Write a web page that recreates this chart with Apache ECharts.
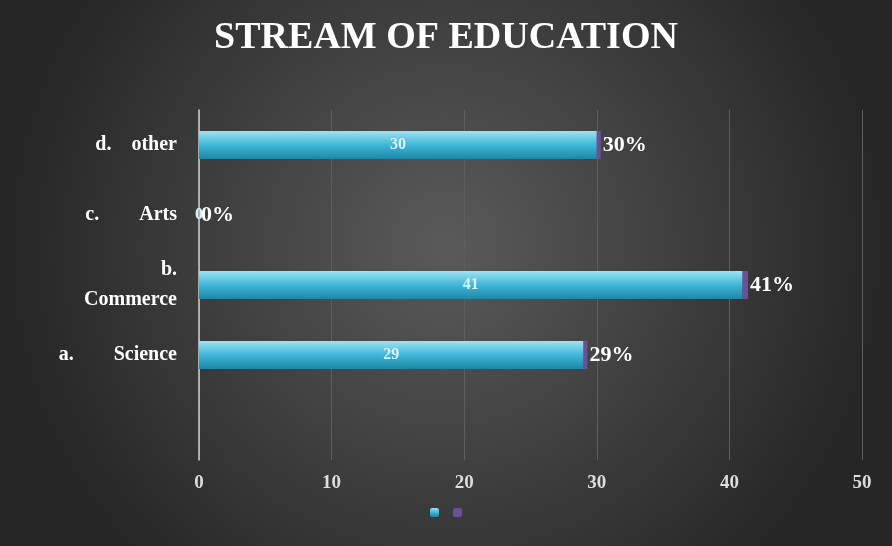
<!DOCTYPE html>
<html><head><meta charset="utf-8">
<script src="https://cdn.jsdelivr.net/npm/echarts@6/dist/echarts.min.js"></script>
<style>html,body{margin:0;padding:0;background:#333}#c{width:892px;height:546px}</style>
</head><body><div id="c"></div>
<script>
// data
var categories = ['', 'a.        Science', 'b.\nCommerce', 'c.        Arts', 'd.    other'];
var counts = [null, 29, 41, 0, 30];
var shares = [null, 0.29, 0.41, 0, 0.30];

var chart = echarts.init(document.getElementById('c'));
var serif = 'Liberation Serif';
chart.setOption({
  backgroundColor: {
    type: 'radial', x: 0.5, y: 0.45, r: 0.8,
    colorStops: [{offset: 0, color: '#5a5a5a'}, {offset: 1, color: '#262626'}]
  },
  title: {
    text: 'STREAM OF EDUCATION', left: 'center', top: 14,
    textStyle: {color: '#fff', fontFamily: serif, fontSize: 38, fontWeight: 'bold'}
  },
  legend: {
    bottom: 24, left: 'center', itemWidth: 9, itemHeight: 9, itemGap: 14,
    data: ['Count', 'Share'], formatter: function () { return ''; },
    textStyle: {color: '#fff'}
  },
  grid: {left: 199, right: 30, top: 110, bottom: 86},
  xAxis: {
    type: 'value', min: 0, max: 50, interval: 10,
    axisLine: {show: false}, axisTick: {show: false},
    axisLabel: {color: '#ddd', fontFamily: serif, fontSize: 19, fontWeight: 'bold', margin: 14},
    splitLine: {lineStyle: {color: '#5e5e5e'}}
  },
  yAxis: {
    type: 'category', data: categories,
    axisLine: {lineStyle: {color: '#cfcfcf', width: 1.5}}, axisTick: {show: false},
    axisLabel: {color: '#fff', fontFamily: serif, fontSize: 20, fontWeight: 'bold', margin: 22, align: 'right', lineHeight: 30}
  },
  series: [{
    name: 'Count', type: 'bar', stack: 's', barWidth: 28, data: counts,
    itemStyle: {color: {type: 'linear', x: 0, y: 0, x2: 0, y2: 1,
      colorStops: [{offset: 0, color: '#9fe3f3'}, {offset: 0.5, color: '#3fb6d6'}, {offset: 1, color: '#1e87a6'}]}},
    label: {show: true, position: 'inside', color: '#d8f4fb', fontFamily: serif, fontSize: 16, fontWeight: 'bold'}
  }, {
    name: 'Share', type: 'bar', stack: 's', barWidth: 28, data: shares,
    itemStyle: {color: '#6a4f9a'},
    label: {show: true, position: 'right', distance: 2, color: '#fff', fontFamily: serif, fontSize: 22, fontWeight: 'bold',
      formatter: function (p) { return Math.round(p.value * 100) + '%'; }}
  }]
});
</script></body></html>
